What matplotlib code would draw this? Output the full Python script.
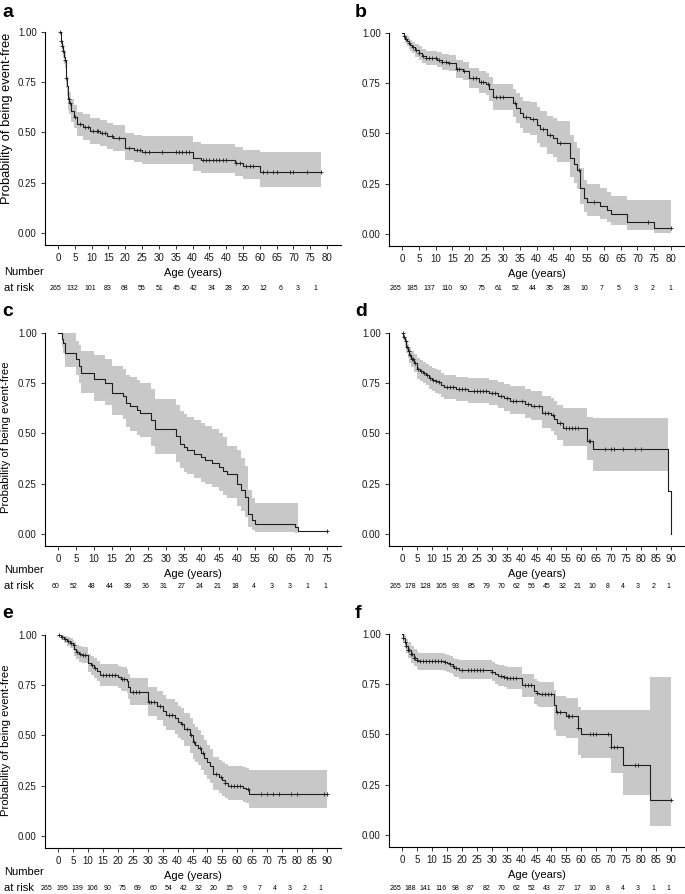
import matplotlib
matplotlib.use('Agg')
import matplotlib.pyplot as plt
import numpy as np

plt.rcParams['font.family'] = ['Liberation Sans', 'DejaVu Sans']

# ---- data ----
lab80 = ['0', '5', '10', '15', '20', '25', '30', '35', '40', '45', '40', '55', '60', '65', '70', '75', '80']
lab75 = ['0', '5', '10', '15', '20', '25', '30', '35', '40', '45', '40', '55', '60', '65', '70', '75']
lab90 = ['0', '5', '10', '15', '20', '25', '30', '35', '40', '45', '40', '55', '60', '65', '70', '75', '80', '85', '90']

# panel a
a_t = [0.5, 0.8, 1.1, 1.4, 1.7, 2.0, 2.3, 2.7, 3.0, 3.4, 3.9, 4.8, 5.8, 7.5, 9.5, 12.5, 14.5, 16.5, 20.0, 22.5,
       25.0, 40.0, 42.5, 52.5, 55.0, 60.0]
a_s = [1.0, 0.955, 0.93, 0.905, 0.875, 0.86, 0.77, 0.73, 0.665, 0.645, 0.605, 0.575, 0.54, 0.525, 0.505, 0.495,
       0.48, 0.47, 0.425, 0.415, 0.405, 0.375, 0.365, 0.35, 0.335, 0.305]
a_lo = [1.0, 0.93, 0.90, 0.87, 0.84, 0.82, 0.72, 0.68, 0.61, 0.59, 0.55, 0.52, 0.48, 0.465, 0.445, 0.435, 0.42,
        0.41, 0.365, 0.355, 0.345, 0.31, 0.30, 0.285, 0.27, 0.23]
a_hi = [1.0, 0.98, 0.96, 0.94, 0.915, 0.90, 0.82, 0.78, 0.72, 0.70, 0.665, 0.635, 0.60, 0.59, 0.57, 0.56, 0.545,
        0.535, 0.495, 0.485, 0.48, 0.455, 0.445, 0.43, 0.415, 0.405]
a_cens = [0.7, 1.0, 1.3, 1.6, 2.2, 2.5, 3.2, 3.6, 5.2, 6.5, 8.0, 9.0, 10.5, 11.5, 12.0, 13.0, 14.0, 16.0, 18.0,
          21.0, 23.5, 24.5, 26.0, 27.0, 31.0, 35.0, 36.0, 37.0, 38.0, 39.0, 43.0, 44.0, 45.0, 46.0, 47.0, 48.0,
          49.0, 50.0, 53.0, 54.0, 56.0, 57.0, 58.0, 61.0, 62.0, 64.0, 65.0, 69.0, 70.0, 74.0, 78.3]
risk_a = [265, 132, 101, 83, 68, 55, 51, 45, 42, 34, 28, 20, 12, 6, 3, 1]

# panel b
b_t = [0, 0.5, 1, 1.5, 2, 2.5, 3, 4, 5, 6, 7, 10.5, 12, 14, 16, 18, 20, 23, 25, 26, 27, 33, 34, 35, 36, 38, 40,
       41, 43, 45, 46, 50, 51, 52, 53, 54, 55, 59, 61, 62, 67, 75]
b_s = [1.0, 0.985, 0.97, 0.96, 0.95, 0.94, 0.93, 0.915, 0.90, 0.885, 0.875, 0.865, 0.855, 0.85, 0.82, 0.81, 0.775,
       0.755, 0.745, 0.72, 0.68, 0.65, 0.625, 0.60, 0.58, 0.57, 0.54, 0.52, 0.49, 0.475, 0.455, 0.38, 0.35, 0.32,
       0.23, 0.18, 0.16, 0.14, 0.12, 0.10, 0.06, 0.03]
b_hi = [1.0, 1.0, 0.99, 0.985, 0.975, 0.965, 0.955, 0.945, 0.935, 0.92, 0.91, 0.905, 0.895, 0.89, 0.865, 0.855,
        0.825, 0.81, 0.80, 0.78, 0.745, 0.72, 0.70, 0.68, 0.66, 0.655, 0.63, 0.61, 0.585, 0.575, 0.56, 0.49, 0.46,
        0.43, 0.33, 0.27, 0.25, 0.23, 0.21, 0.19, 0.17, 0.17]
b_lo = [1.0, 0.97, 0.95, 0.935, 0.92, 0.91, 0.90, 0.88, 0.865, 0.85, 0.84, 0.83, 0.815, 0.81, 0.775, 0.765, 0.725,
        0.70, 0.69, 0.66, 0.615, 0.58, 0.55, 0.525, 0.50, 0.49, 0.455, 0.435, 0.40, 0.385, 0.36, 0.285, 0.255,
        0.225, 0.15, 0.11, 0.09, 0.075, 0.06, 0.045, 0.02, 0.005]
b_cens = [0.5, 1.2, 2.2, 3.2, 4.2, 5.2, 6.2, 7.2, 8, 9, 10, 11, 12, 13, 14, 16.5, 17, 18.5, 21, 22, 23.5, 24, 25.5,
          28, 29, 30, 33.5, 37, 39, 42, 44, 47, 52.5, 57, 73, 80]
risk_b = [265, 185, 137, 110, 90, 75, 61, 52, 44, 35, 28, 10, 7, 5, 3, 2, 1]

# panel c
c_t = [0, 1, 1.5, 2, 5, 6, 6.3, 10, 13, 15, 18, 19, 20, 22, 23, 26, 27, 33, 34, 35, 36, 38, 40, 41, 43, 45, 46,
       47, 50, 51, 52, 53, 54, 55, 66, 67]
c_s = [1.0, 0.97, 0.95, 0.90, 0.87, 0.835, 0.80, 0.77, 0.75, 0.70, 0.685, 0.65, 0.635, 0.615, 0.60, 0.565, 0.52,
       0.485, 0.45, 0.435, 0.42, 0.40, 0.385, 0.37, 0.355, 0.335, 0.315, 0.30, 0.25, 0.22, 0.185, 0.10, 0.07,
       0.05, 0.035, 0.017]
c_hi = [1.0, 1.0, 1.0, 1.0, 0.96, 0.94, 0.91, 0.89, 0.87, 0.835, 0.82, 0.79, 0.78, 0.765, 0.75, 0.72, 0.67, 0.64,
        0.61, 0.595, 0.58, 0.565, 0.55, 0.535, 0.52, 0.50, 0.48, 0.44, 0.42, 0.38, 0.34, 0.22, 0.18, 0.155, 0.155]
c_lo = [1.0, 0.93, 0.90, 0.83, 0.79, 0.75, 0.70, 0.66, 0.64, 0.59, 0.57, 0.53, 0.51, 0.49, 0.48, 0.44, 0.40, 0.36,
        0.33, 0.31, 0.30, 0.28, 0.26, 0.25, 0.235, 0.215, 0.195, 0.18, 0.14, 0.115, 0.085, 0.035, 0.02, 0.01,
        0.005]
c_cens = [75]
risk_c = [60, 52, 48, 44, 39, 36, 31, 27, 24, 21, 18, 4, 3, 3, 1, 1]

# panel d
d_t = [0, 0.5, 1, 1.5, 2, 2.5, 3, 4, 5, 6, 7, 8, 9, 10, 11, 12, 13, 14, 18, 22, 29, 32, 34, 36, 41, 43, 47, 50,
       51, 52, 54, 62, 64, 89, 90]
d_s = [1.0, 0.98, 0.96, 0.93, 0.91, 0.89, 0.87, 0.85, 0.82, 0.81, 0.80, 0.79, 0.775, 0.765, 0.76, 0.755, 0.74,
       0.73, 0.72, 0.71, 0.70, 0.685, 0.675, 0.66, 0.645, 0.635, 0.60, 0.59, 0.57, 0.55, 0.525, 0.465, 0.425,
       0.213, 0.0]
d_hi = [1.0, 0.995, 0.98, 0.96, 0.945, 0.93, 0.91, 0.895, 0.875, 0.865, 0.855, 0.845, 0.835, 0.825, 0.82, 0.815,
        0.80, 0.79, 0.78, 0.775, 0.765, 0.755, 0.745, 0.735, 0.72, 0.71, 0.685, 0.675, 0.66, 0.64, 0.625, 0.58,
        0.575]
d_lo = [1.0, 0.965, 0.935, 0.90, 0.875, 0.85, 0.83, 0.805, 0.77, 0.76, 0.75, 0.74, 0.72, 0.71, 0.70, 0.695, 0.68,
        0.67, 0.66, 0.65, 0.64, 0.625, 0.61, 0.595, 0.575, 0.565, 0.525, 0.51, 0.49, 0.47, 0.44, 0.37, 0.315]
d_cens = [0.3, 0.7, 1.2, 1.7, 2.2, 2.7, 3.3, 3.7, 4.5, 5.5, 6.5, 7.5, 8.5, 9.5, 10.5, 11.5, 12.5, 15, 16, 17, 19,
          20, 21, 24, 25, 26, 27, 28, 30, 31, 33, 35, 37, 38, 40, 42, 44, 46, 48, 49, 50.5, 53, 55, 56, 57, 58,
          59, 62.5, 63, 68, 70, 71, 74, 78, 80]
risk_d = [265, 178, 128, 105, 93, 85, 79, 70, 62, 56, 45, 32, 21, 10, 8, 4, 3, 2, 1]

# panel e
e_t = [0, 1, 2, 3, 4, 5, 5.5, 6, 7, 8, 10, 11, 12, 13, 14, 20, 21, 23, 23.5, 24, 30, 33, 35, 36, 39, 40, 41, 42,
       44, 45, 46, 47, 48, 49, 50, 51, 52, 54, 55, 56, 57, 62, 63, 64]
e_s = [1.0, 0.99, 0.98, 0.97, 0.96, 0.95, 0.93, 0.915, 0.905, 0.90, 0.86, 0.85, 0.835, 0.82, 0.80, 0.79, 0.78,
       0.77, 0.74, 0.715, 0.665, 0.645, 0.62, 0.60, 0.585, 0.565, 0.555, 0.53, 0.50, 0.47, 0.455, 0.44, 0.415,
       0.39, 0.37, 0.35, 0.31, 0.295, 0.28, 0.265, 0.25, 0.24, 0.235, 0.21]
e_hi = [1.0, 1.0, 0.995, 0.99, 0.985, 0.975, 0.965, 0.95, 0.945, 0.94, 0.905, 0.895, 0.885, 0.87, 0.855, 0.845,
        0.84, 0.83, 0.805, 0.785, 0.74, 0.72, 0.70, 0.68, 0.665, 0.645, 0.635, 0.61, 0.585, 0.555, 0.54, 0.525,
        0.50, 0.475, 0.455, 0.435, 0.395, 0.38, 0.37, 0.36, 0.35, 0.345, 0.34, 0.33]
e_lo = [1.0, 0.975, 0.96, 0.945, 0.935, 0.92, 0.895, 0.88, 0.865, 0.86, 0.815, 0.80, 0.785, 0.77, 0.745, 0.735,
        0.72, 0.71, 0.68, 0.65, 0.595, 0.575, 0.545, 0.525, 0.505, 0.485, 0.475, 0.45, 0.415, 0.385, 0.37, 0.355,
        0.33, 0.305, 0.285, 0.265, 0.23, 0.215, 0.20, 0.19, 0.18, 0.17, 0.165, 0.14]
e_cens = [0.5, 1.5, 2.5, 3.5, 4.5, 5.2, 6.5, 7.5, 8.5, 9, 11.5, 12.5, 15, 16, 17, 18, 19, 21.5, 22, 25, 26, 27,
          30.5, 31, 32, 34, 37, 38, 41.5, 43, 44.5, 45.5, 47.5, 48.5, 53, 54.5, 56, 58, 59, 60, 61, 63.5, 68, 70,
          72, 74, 78, 80, 89, 90]
risk_e = [265, 195, 139, 106, 90, 75, 69, 60, 54, 42, 32, 20, 15, 9, 7, 4, 3, 2, 1]

# panel f
f_t = [0, 0.5, 1, 1.5, 2, 3, 4, 5, 5.5, 14, 15, 16, 17, 17.5, 19, 30, 31, 32, 34, 35, 40, 44, 45, 46, 51, 51.5,
       55, 59, 60, 70, 74, 83]
f_s = [1.0, 0.98, 0.96, 0.94, 0.92, 0.90, 0.88, 0.87, 0.865, 0.86, 0.855, 0.85, 0.84, 0.83, 0.82, 0.81, 0.80,
       0.79, 0.785, 0.78, 0.745, 0.715, 0.705, 0.70, 0.645, 0.61, 0.59, 0.53, 0.50, 0.44, 0.35, 0.175]
f_hi = [1.0, 1.0, 0.99, 0.975, 0.96, 0.94, 0.925, 0.915, 0.905, 0.90, 0.895, 0.89, 0.88, 0.875, 0.87, 0.86, 0.85,
        0.845, 0.84, 0.835, 0.80, 0.775, 0.765, 0.76, 0.72, 0.69, 0.68, 0.635, 0.62, 0.62, 0.62, 0.785]
f_lo = [1.0, 0.96, 0.93, 0.905, 0.88, 0.855, 0.84, 0.825, 0.82, 0.815, 0.81, 0.805, 0.795, 0.785, 0.775, 0.765,
        0.75, 0.74, 0.735, 0.725, 0.685, 0.65, 0.64, 0.635, 0.52, 0.49, 0.48, 0.40, 0.385, 0.31, 0.20, 0.045]
f_cens = [0.5, 1, 1.5, 2, 2.5, 3, 3.5, 4, 4.5, 5, 6, 7, 8, 9, 10, 11, 12, 13, 14.5, 16, 17.2, 18, 20, 22, 23, 24,
          25, 26, 27, 30, 33, 34, 35, 36, 37, 38, 41, 42, 43, 45, 47, 48, 49, 50, 52, 53, 55.5, 56, 57, 59, 63,
          64, 65, 69, 70, 71, 72, 78, 79, 90]
risk_f = [265, 188, 141, 116, 98, 87, 82, 70, 62, 52, 43, 27, 17, 10, 8, 4, 3, 1, 1]

panels = [
    dict(key='a', t=a_t, s=a_s, lo=a_lo, hi=a_hi, cens=a_cens, end=78.3, band_end=78.3, xmax=80, labels=lab80, risk=risk_a),
    dict(key='b', t=b_t, s=b_s, lo=b_lo, hi=b_hi, cens=b_cens, end=80, band_end=80, xmax=80, labels=lab80, risk=risk_b),
    dict(key='c', t=c_t, s=c_s, lo=c_lo, hi=c_hi, cens=c_cens, end=75, band_end=67, xmax=75, labels=lab75, risk=risk_c),
    dict(key='d', t=d_t, s=d_s, lo=d_lo, hi=d_hi, cens=d_cens, end=90, band_end=89, xmax=90, labels=lab90, risk=risk_d),
    dict(key='e', t=e_t, s=e_s, lo=e_lo, hi=e_hi, cens=e_cens, end=90, band_end=90, xmax=90, labels=lab90, risk=risk_e),
    dict(key='f', t=f_t, s=f_s, lo=f_lo, hi=f_hi, cens=f_cens, end=90, band_end=90, xmax=90, labels=lab90, risk=risk_f),
]

# ---- layout in pixels ----
W, H = 685, 894
fig = plt.figure(figsize=(W / 100, H / 100), dpi=100)

def fx(px):
    return px / W

def fy(py):
    return 1 - py / H

AX_W, AX_H = 296, 213
# left, top(y=1.0), risk x at t=0, risk stretch, risk row y, letter baseline
layout = [
    (44.5, 32, 55.3, 1.03, 288, 17),
    (388.5, 33, 395.3, 1.021, 288, 17),
    (44.5, 333, 56.0, 1.0, 586, 316),
    (388.5, 333, 395.3, 1.015, 586, 316),
    (44.5, 635, 46.7, 1.016, 888, 618),
    (388.5, 634, 395.3, 1.014, 888, 618),
]
ylab = {'a': (7, 118, 9.3), 'c': (6.5, 437, 8.2), 'e': (6.5, 740, 8.2)}

line_col = '#1e1e1e'
band_col = '#c8c8c8'

for p, (left, top, r0, rf, risk_y, let_y) in zip(panels, layout):
    xmax = p['xmax']
    xlo, xhi = -0.05 * xmax, 1.05 * xmax
    ax = fig.add_axes([fx(left), fy(top + AX_H), AX_W / W, AX_H / H])
    ax.set_xlim(xlo, xhi)
    ax.set_ylim(-0.06, 1.0)

    t = np.array(p['t'], dtype=float)
    s = np.array(p['s'], dtype=float)
    nb = len(p['hi'])
    bx = list(t[:nb]) + [p['band_end']]
    ax.fill_between(bx, list(p['lo']) + [p['lo'][-1]], list(p['hi']) + [p['hi'][-1]],
                    step='post', color=band_col, lw=0, clip_on=False)
    ax.step(list(t) + [p['end']], list(s) + [s[-1]], where='post', color=line_col, lw=0.8, clip_on=False)
    cens = np.array(p['cens'], dtype=float)
    idx = np.searchsorted(t, cens, side='right') - 1
    ax.plot(cens, s[np.clip(idx, 0, None)], '+', color=line_col, ms=3, mew=0.6, clip_on=False)

    ticks = np.arange(0, xmax + 1, 5)
    ax.set_xticks(ticks)
    ax.set_xticklabels(p['labels'])
    ax.set_yticks([0, 0.25, 0.5, 0.75, 1.0])
    ax.set_yticklabels(['0.00', '0.25', '0.50', '0.75', '1.00'])
    ax.tick_params(labelsize=7, length=3, width=0.6, pad=2.5, colors='#1a1a1a')
    for side in ['top', 'right']:
        ax.spines[side].set_visible(False)
    for side in ['left', 'bottom']:
        ax.spines[side].set_linewidth(0.8)
    ax.set_xlabel('Age (years)', fontsize=8, labelpad=4)

    # number at risk row
    scale = AX_W / (xhi - xlo) * rf
    rax = fig.add_axes([fx(r0 + xlo * scale), fy(risk_y + 5), (xhi - xlo) * scale / W, 10 / H])
    rax.set_xlim(xlo, xhi)
    rax.set_ylim(0, 1)
    rax.axis('off')
    for i, n in enumerate(p['risk']):
        rax.text(i * 5, 0.5, str(n), fontsize=5, ha='center', va='center')

    col_left = left < 200
    fig.text(fx(2 if col_left else 355), fy(let_y), p['key'], fontsize=14, fontweight='bold', va='baseline')
    if col_left:
        fig.text(fx(4), fy(risk_y - 16), 'Number', fontsize=8, va='center')
        fig.text(fx(4), fy(risk_y), 'at risk', fontsize=8, va='center')
        lx, ly, lsz = ylab[p['key']]
        fig.text(fx(lx), fy(ly), 'Probability of being event-free', rotation=90,
                 fontsize=lsz, ha='center', va='center')

fig.savefig('out.png', dpi=100)
